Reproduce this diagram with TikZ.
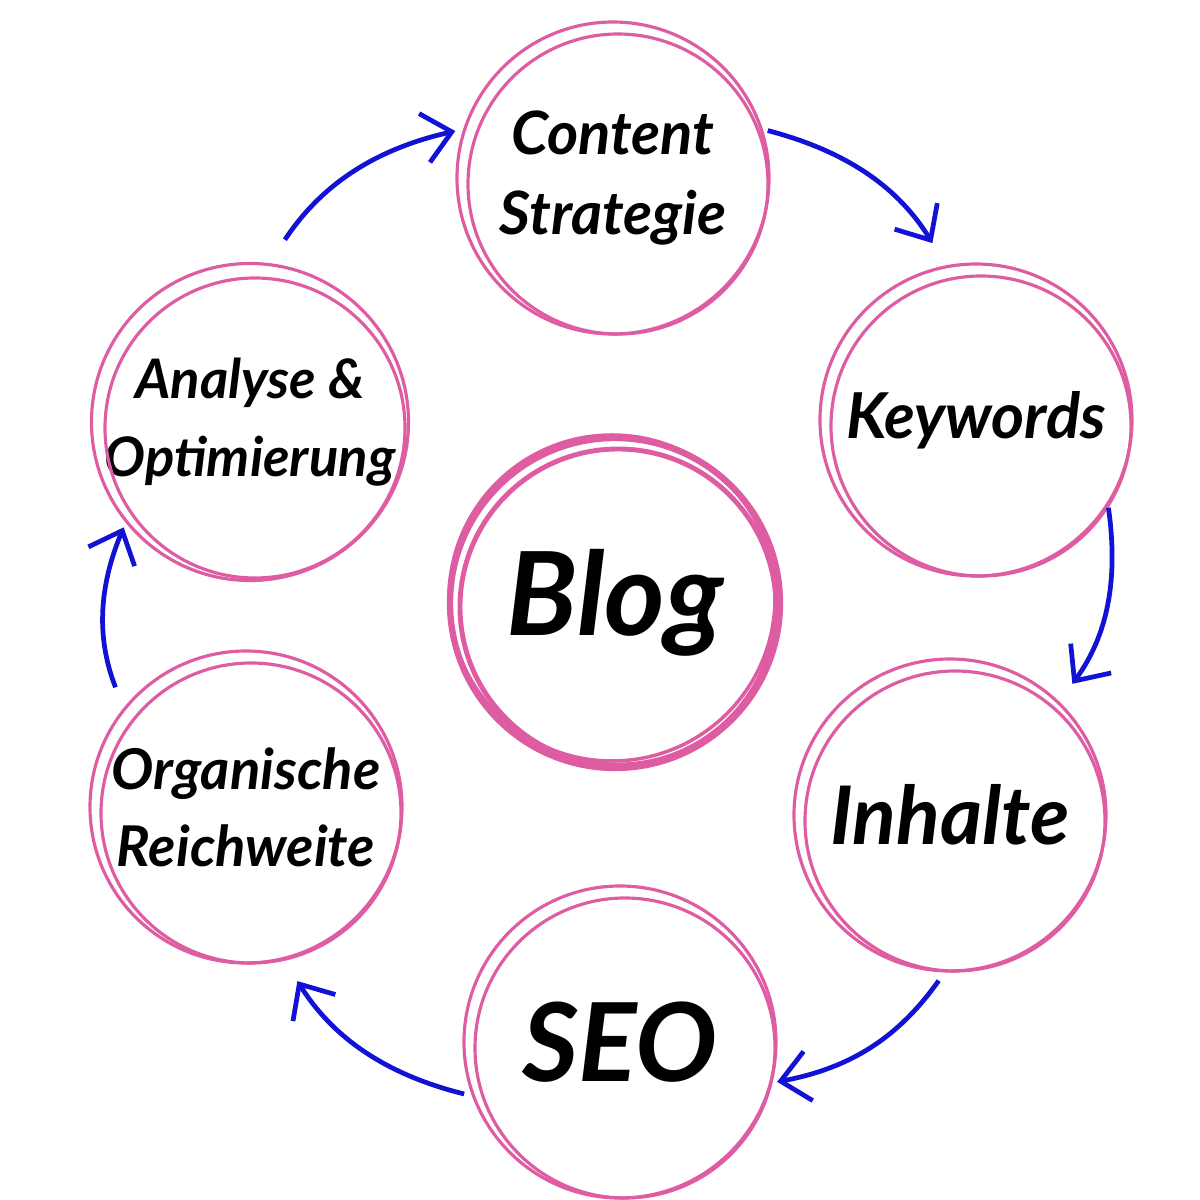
\documentclass[tikz,border=0pt]{standalone}
\usepackage{fontspec}
\setmainfont{Lato}
\usetikzlibrary{arrows.meta}

\definecolor{ringpink}{RGB}{222,92,162}
\definecolor{flowblue}{RGB}{18,18,212}

\begin{document}
\begin{tikzpicture}[
    bubble/.style={circle, draw=ringpink, line width=0.9pt, minimum size=3.12cm, inner sep=0pt, align=center, font=\fontsize{17}{23}\selectfont\bfseries\itshape},
    flow/.style={flowblue, line width=1.35pt, -{Straight Barb[length=2.8mm, width=5mm]}, bend left=22}
]
    \useasboundingbox (0,0) rectangle (12,12);

    % Hub
    \node[bubble, minimum size=3.3cm, line width=1.8pt, font=\fontsize{33}{40}\selectfont\bfseries\itshape] (blog) at (6.15,5.97) {Blog};
    \draw[ringpink, line width=1.4pt] ([shift={(0.03,-0.04)}]blog.center) circle (1.58);
    \draw[ringpink, line width=1.0pt] ([shift={(-0.03,0.05)}]blog.center) circle (1.63);

    % Ring
    \node[bubble] (cont) at (6.13,10.22) {Content\\Strategie};
    \node[bubble, font=\fontsize{18}{23}\selectfont\bfseries\itshape] (key) at (9.76,7.80) {Keywords};
    \node[bubble, font=\fontsize{23}{28}\selectfont\bfseries\itshape] (inh) at (9.50,3.85) {Inhalte};
    \node[bubble, font=\fontsize{31}{36}\selectfont\bfseries\itshape] (seo) at (6.20,1.58) {SEO};
    \node[bubble, font=\fontsize{16}{22}\selectfont\bfseries\itshape] (org) at (2.46,3.93) {Organische\\Reichweite};
    \node[bubble, font=\fontsize{15.5}{22}\selectfont\bfseries\itshape] (ana) at (2.50,7.78) {Analyse \&\\Optimierung};

    % Second strokes
    \foreach \n in {cont,key,inh,seo,org,ana}
        \draw[ringpink, line width=0.9pt] ([shift={(0.05,-0.06)}]\n.center) circle (1.50);

    % Cycle
    \draw[flow, shorten <=0.28cm, shorten >=0.08cm] (ana.83) to (cont.162);
    \draw[flow, shorten <=0.05cm, shorten >=0.26cm] (cont.18) to (key.101);
    \draw[flow, shorten <=0.02cm, shorten >=0.22cm] (key.-33) to (inh.46);
    \draw[flow, shorten <=0.10cm, shorten >=0.05cm] (inh.-92) to (seo.-15);
    \draw[flow, shorten <=0.08cm, shorten >=0.25cm] (seo.200) to (org.-76);
    \draw[flow, shorten <=0.22cm, shorten >=0.05cm] (org.141) to (ana.219);
\end{tikzpicture}
\end{document}
